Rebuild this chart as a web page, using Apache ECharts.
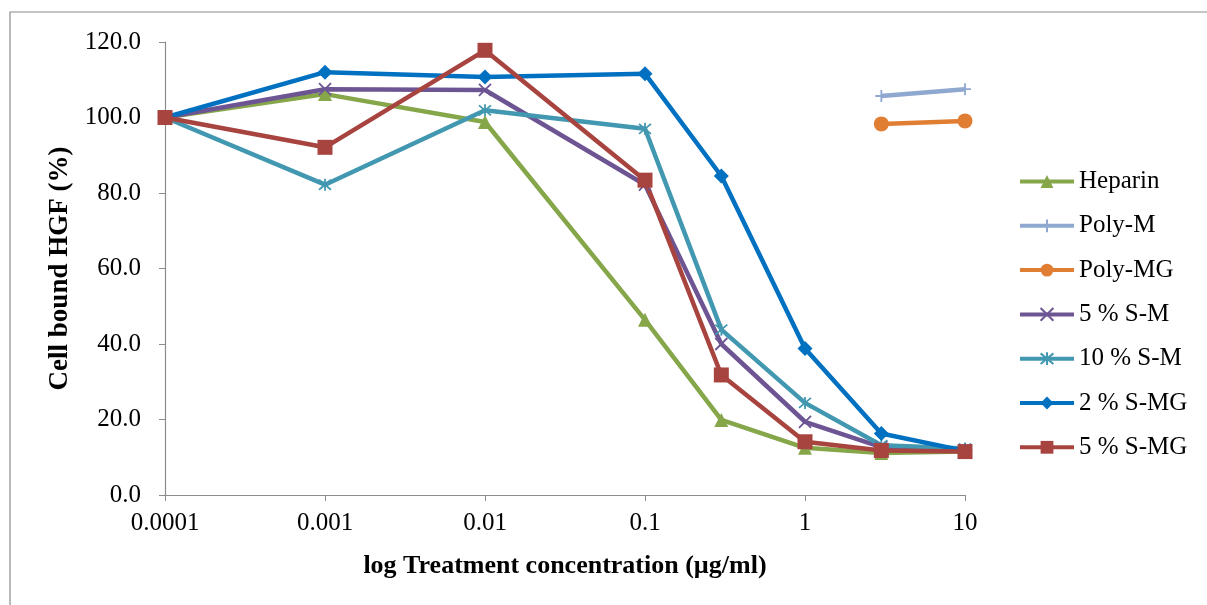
<!DOCTYPE html>
<html>
<head>
<meta charset="utf-8">
<script src="https://cdn.jsdelivr.net/npm/echarts@6/dist/echarts.min.js"></script>
<style>
  html, body { margin: 0; padding: 0; background: #fff; }
  #chart { width: 1207px; height: 605px; }
</style>
</head>
<body>
<div id="chart"></div>
<script>
// Treatment concentrations (µg/ml), plotted on a log axis
const concentrations = [0.0001, 0.001, 0.01, 0.1, 0.3, 1, 3, 10];
const xTickLabels = ['0.0001', '0.001', '0.01', '0.1', '1', '10'];

// Cell bound HGF (%) for each treatment
const heparin  = [100, 106.2, 98.8, 46.4, 19.9, 12.5, 11.1, 11.5];
const polyM    = [null, null, null, null, null, null, 105.7, 107.5];
const polyMG   = [null, null, null, null, null, null, 98.3, 99.1];
const sm5      = [100, 107.5, 107.3, 82.2, 40.0, 19.4, 12.7, 12.0];
const sm10     = [100, 82.2, 101.9, 97.0, 43.8, 24.4, 13.2, 12.3];
const smg2     = [100, 112.0, 110.7, 111.6, 84.5, 38.8, 16.3, 11.7];
const smg5     = [100, 92.1, 117.8, 83.4, 31.8, 14.1, 11.8, 11.5];

const FONT = '"Liberation Serif", "Times New Roman", serif';

const PLUS = 'path://M5,0 L5,10 M0,5 L10,5';
const CROSS = 'path://M0,0 L10,10 M10,0 L0,10';
const STAR = 'path://M0,0 L10,10 M10,0 L0,10 M5,-1 L5,11';

function pairs(vals) {
  return concentrations.map((c, i) => [c, vals[i]]);
}

function series(name, vals, color, symbol, size, stroked) {
  return {
    name: name,
    type: 'line',
    data: pairs(vals),
    connectNulls: false,
    symbol: symbol,
    symbolSize: size,
    showAllSymbol: true,
    lineStyle: { color: color, width: 4.5 },
    itemStyle: stroked
      ? { color: color, borderColor: color, borderWidth: 1.8 }
      : { color: color, borderWidth: 0 },
    emphasis: { disabled: true },
    z: 2
  };
}

const chart = echarts.init(document.getElementById('chart'), null, { renderer: 'canvas' });

chart.setOption({
  animation: false,
  backgroundColor: '#ffffff',
  graphic: [{
    type: 'rect',
    shape: { x: 10, y: 12, width: 1230, height: 640 },
    style: { fill: 'none', stroke: '#8c8c8c', lineWidth: 1.2 },
    silent: true
  }],
  grid: { left: 165, right: 242, top: 42, bottom: 110 },
  legend: {
    orient: 'vertical',
    left: 1013,
    top: 164,
    itemWidth: 54,
    itemHeight: 16,
    itemGap: 19.3,
    lineStyle: { width: 4 },
    textStyle: { fontFamily: FONT, fontSize: 25, lineHeight: 25, color: '#000' },
    data: ['Heparin', 'Poly-M', 'Poly-MG', '5 % S-M', '10 % S-M', '2 % S-MG', '5 % S-MG']
  },
  xAxis: {
    type: 'log',
    logBase: 10,
    min: 0.0001,
    max: 10,
    name: 'log Treatment concentration (µg/ml)',
    nameLocation: 'middle',
    nameGap: 58,
    nameTextStyle: { fontFamily: FONT, fontSize: 26, fontWeight: 'bold', color: '#000' },
    axisLine: { lineStyle: { color: '#8c8c8c', width: 1.2 } },
    axisTick: { show: true, length: 6, inside: false, lineStyle: { color: '#8c8c8c' } },
    axisLabel: {
      fontFamily: FONT, fontSize: 25, color: '#000', margin: 16,
      formatter: function (v) {
        const k = Math.round(Math.log10(v)) + 4;
        return xTickLabels[k] !== undefined ? xTickLabels[k] : '';
      }
    },
    splitLine: { show: false },
    minorTick: { show: false }
  },
  yAxis: {
    type: 'value',
    min: 0,
    max: 120,
    interval: 20,
    name: 'Cell bound HGF (%)',
    nameLocation: 'middle',
    nameGap: 89,
    nameRotate: 90,
    nameTextStyle: { fontFamily: FONT, fontSize: 27, fontWeight: 'bold', color: '#000' },
    axisLine: { show: true, lineStyle: { color: '#8c8c8c', width: 1.2 } },
    axisTick: { show: true, length: 6, lineStyle: { color: '#8c8c8c' } },
    axisLabel: {
      fontFamily: FONT, fontSize: 25, color: '#000', margin: 24,
      formatter: function (v) { return v.toFixed(1); }
    },
    splitLine: { show: false }
  },
  series: [
    series('Heparin', heparin, '#86a64a', 'triangle', 14, false),
    series('Poly-M', polyM, '#8ea8d0', PLUS, 12, true),
    series('Poly-MG', polyMG, '#e07e34', 'circle', 15, false),
    series('5 % S-M', sm5, '#6d5594', CROSS, 12, true),
    series('10 % S-M', sm10, '#4298b0', STAR, 12, true),
    series('2 % S-MG', smg2, '#0070c0', 'diamond', 15, false),
    series('5 % S-MG', smg5, '#a8443f', 'rect', 15, false)
  ]
});
</script>
</body>
</html>
